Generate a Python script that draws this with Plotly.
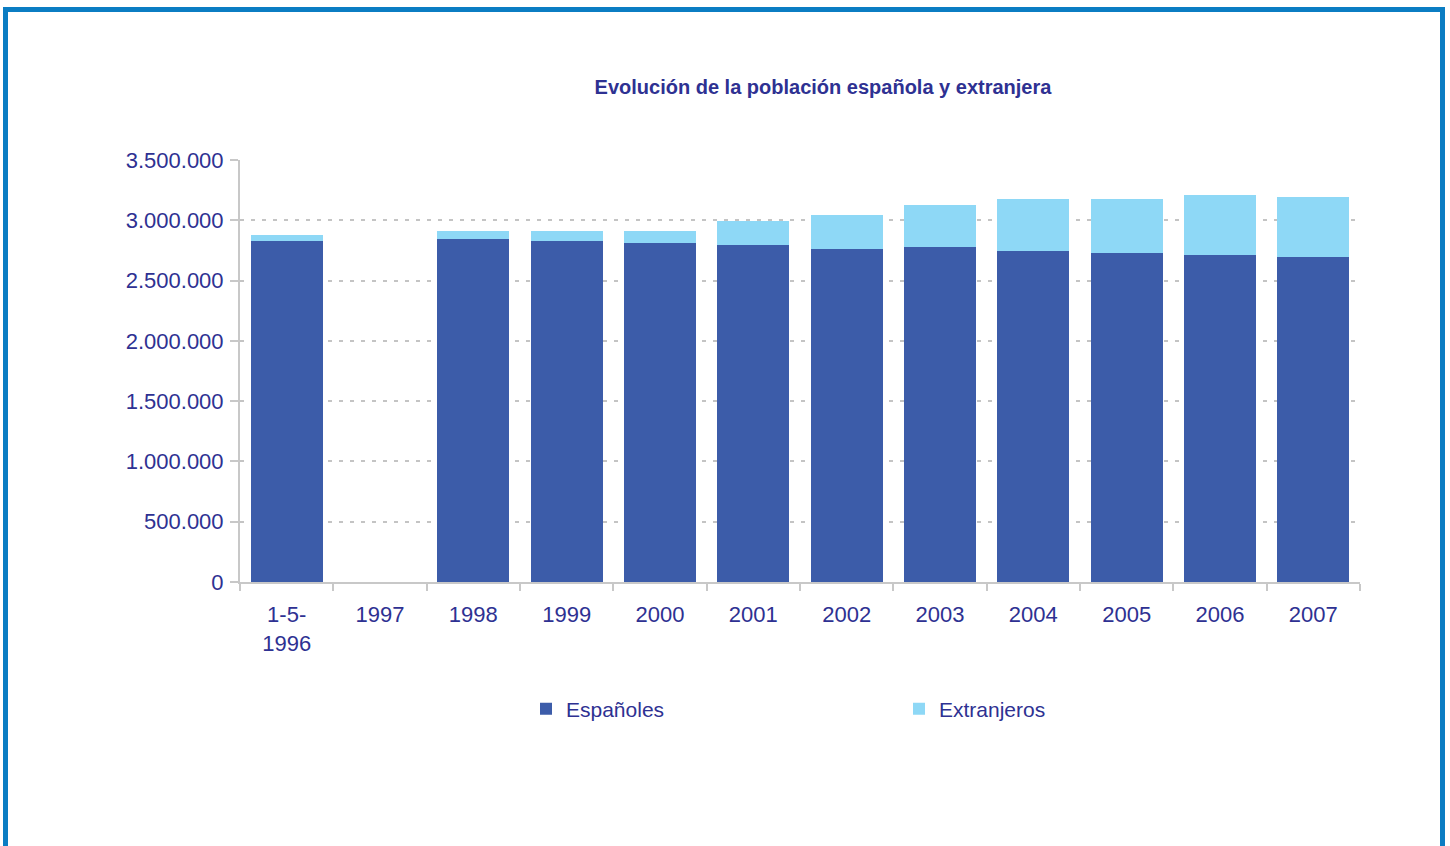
import plotly.graph_objects as go

categories = ["1-5-<br>1996", "1997", "1998", "1999", "2000", "2001", "2002", "2003", "2004", "2005", "2006", "2007"]
espanoles = [2825000, None, 2842000, 2825000, 2809000, 2792000, 2759000, 2776000, 2742000, 2726000, 2709000, 2692000]
extranjeros = [50000, None, 67000, 84000, 100000, 200000, 283000, 349000, 432000, 449000, 499000, 499000]
y_ticks = [0, 500000, 1000000, 1500000, 2000000, 2500000, 3000000, 3500000]
y_tick_labels = ["0", "500.000", "1.000.000", "1.500.000", "2.000.000", "2.500.000", "3.000.000", "3.500.000"]

W, H = 1450, 846
L, R, T, B = 240, 90, 160, 264
pw, ph = W - L - R, H - T - B

def px_x(x):
    return (x - L) / pw

def px_y(y):
    return (H - B - y) / ph

text_color = "#2E3192"
font_family = "Liberation Sans, Arial, sans-serif"

fig = go.Figure()
fig.add_trace(go.Bar(x=categories, y=espanoles, name="Españoles", marker=dict(color="#3C5CA9", line=dict(width=0))))
fig.add_trace(go.Bar(x=categories, y=extranjeros, name="Extranjeros", marker=dict(color="#8ED8F6", line=dict(width=0))))

fig.update_layout(
    width=W, height=H,
    barmode="stack",
    bargap=0.228,
    plot_bgcolor="white",
    paper_bgcolor="white",
    margin=dict(l=L, r=R, t=T, b=B),
    font=dict(family=font_family, color=text_color, size=22),
    title=dict(
        text="<b>Evolución de la población española y extranjera</b>",
        x=px_x(823), xref="paper", xanchor="center",
        y=1 - 87 / H, yref="container", yanchor="middle",
        font=dict(family=font_family, size=20, color=text_color),
    ),
    showlegend=True,
    legend=dict(
        orientation="h",
        x=px_x(526), xanchor="left",
        y=px_y(709), yanchor="middle",
        entrywidth=328, entrywidthmode="pixels",
        itemwidth=30,
        font=dict(family=font_family, size=21, color=text_color),
        bgcolor="rgba(0,0,0,0)",
        traceorder="normal",
    ),
    xaxis=dict(
        showline=True, linecolor="#C8C8C8", linewidth=2,
        ticks="outside", ticklen=7, tickcolor="#C8C8C8", tickwidth=2,
        tickson="boundaries",
        showgrid=False,
        tickfont=dict(size=22, color=text_color),
        ticklabelstandoff=12,
        fixedrange=True,
    ),
    yaxis=dict(
        range=[0, 3500000],
        tickvals=y_ticks, ticktext=y_tick_labels,
        showline=True, linecolor="#C8C8C8", linewidth=2,
        ticks="outside", ticklen=8, tickcolor="#C8C8C8", tickwidth=2,
        showgrid=True, gridcolor="#C4C4C4", gridwidth=1.5, griddash="4px,7px",
        zeroline=False,
        tickfont=dict(size=22, color=text_color),
        ticklabelstandoff=2,
    ),
    shapes=[
        dict(type="rect", xref="paper", yref="paper",
             x0=px_x(5.5), x1=px_x(1442.5), y0=px_y(9.5), y1=px_y(900),
             line=dict(color="#0B7DC3", width=5), fillcolor="rgba(0,0,0,0)", layer="below"),
    ],
)

fig.write_html(
    "out.html",
    config={"displayModeBar": False},
    post_script="document.body.style.margin='0';document.body.style.padding='0';document.body.style.overflow='hidden';",
)
